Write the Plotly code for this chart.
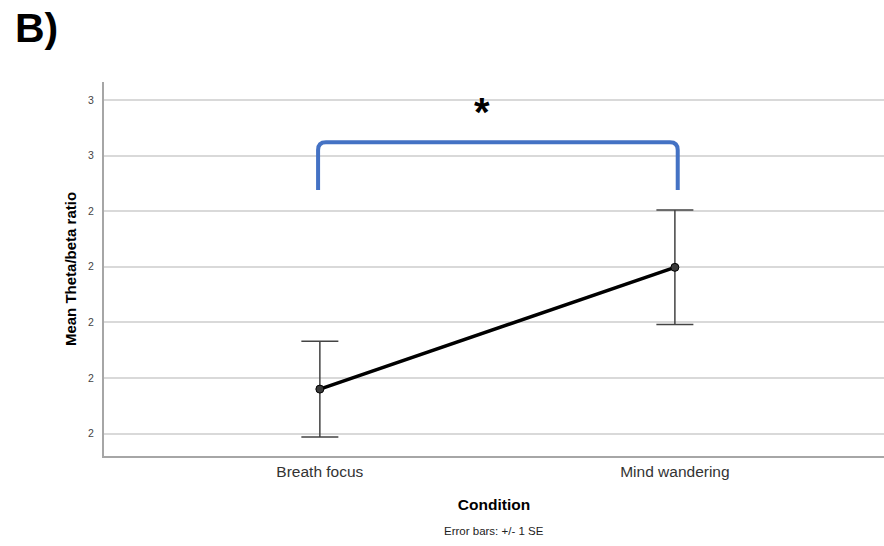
import plotly.graph_objects as go

# Mean theta/beta ratio per condition, with +/- 1 SE
conditions = ["Breath focus", "Mind wandering"]
means = [2.080, 2.299]
se = [0.086, 0.103]

# y-axis ticks (labels shown rounded to whole numbers)
y_ticks = [2.0, 2.1, 2.2, 2.3, 2.4, 2.5, 2.6]
y_tick_labels = ["2", "2", "2", "2", "2", "3", "3"]

# significance bracket between the two conditions
bracket_top = 2.524
bracket_foot = 2.438

x_pos = list(range(len(conditions)))

fig = go.Figure()
fig.add_trace(go.Scatter(
    x=x_pos, y=means,
    mode="lines+markers",
    line=dict(color="black", width=3.5),
    marker=dict(size=8, color="#3a3a3a", line=dict(color="black", width=1)),
    error_y=dict(type="data", array=se, visible=True, color="#444444",
                 thickness=1.5, width=18.5),
    showlegend=False,
))

# rounded bracket drawn in data coordinates
x0, x1 = x_pos[0] - 0.005, x_pos[1] + 0.008
rx, ry = 0.022, 0.014
path = (f"M {x0},{bracket_foot} L {x0},{bracket_top - ry} "
        f"Q {x0},{bracket_top} {x0 + rx},{bracket_top} "
        f"L {x1 - rx},{bracket_top} "
        f"Q {x1},{bracket_top} {x1},{bracket_top - ry} "
        f"L {x1},{bracket_foot}")
fig.add_shape(type="path", path=path, xref="x", yref="y",
              line=dict(color="#4472C4", width=4))

fig.add_annotation(x=0.458, y=2.579, xref="x", yref="y", text="<b>*</b>",
                   showarrow=False, font=dict(size=40, color="black",
                                              family="Liberation Sans"),
                   yanchor="middle")

# panel letter, top-left corner
fig.add_annotation(x=-0.1167, y=1.144, xref="paper", yref="paper", text="<b>B)</b>",
                   showarrow=False, xanchor="left", yanchor="middle",
                   font=dict(size=41, color="black", family="Liberation Sans"))

fig.add_annotation(x=0.5, y=-0.2005, text="Error bars: +/- 1 SE", showarrow=False,
                   xref="paper", yref="paper", yanchor="middle",
                   font=dict(size=11.5, color="#222222"))

fig.update_layout(
    width=884, height=546,
    margin=dict(l=104, r=0, t=82, b=90),
    paper_bgcolor="white", plot_bgcolor="white",
    font=dict(family="Liberation Sans, Arial, sans-serif", color="#222222"),
    xaxis=dict(
        range=[-0.608, 1.589],
        tickvals=x_pos, ticktext=conditions,
        tickfont=dict(size=15.5, color="#333333"),
        showgrid=False, zeroline=False,
        showline=True, linecolor="#a6a6a6", linewidth=2,
        ticks="",
        title=dict(text="<b>Condition</b>", font=dict(size=15.5, color="black"),
                   standoff=21),
    ),
    yaxis=dict(
        range=[1.9597, 2.6324],
        tickvals=y_ticks, ticktext=y_tick_labels,
        tickfont=dict(size=10.5, color="#444444"),
        showgrid=True, gridcolor="#d9d9d9", gridwidth=1.5,
        zeroline=False,
        showline=True, linecolor="#a6a6a6", linewidth=2,
        ticks="", ticklabelstandoff=6,
        title=dict(text="<b>Mean Theta/beta ratio</b>",
                   font=dict(size=15, color="black"), standoff=8),
    ),
)

fig.write_html("out.html")
